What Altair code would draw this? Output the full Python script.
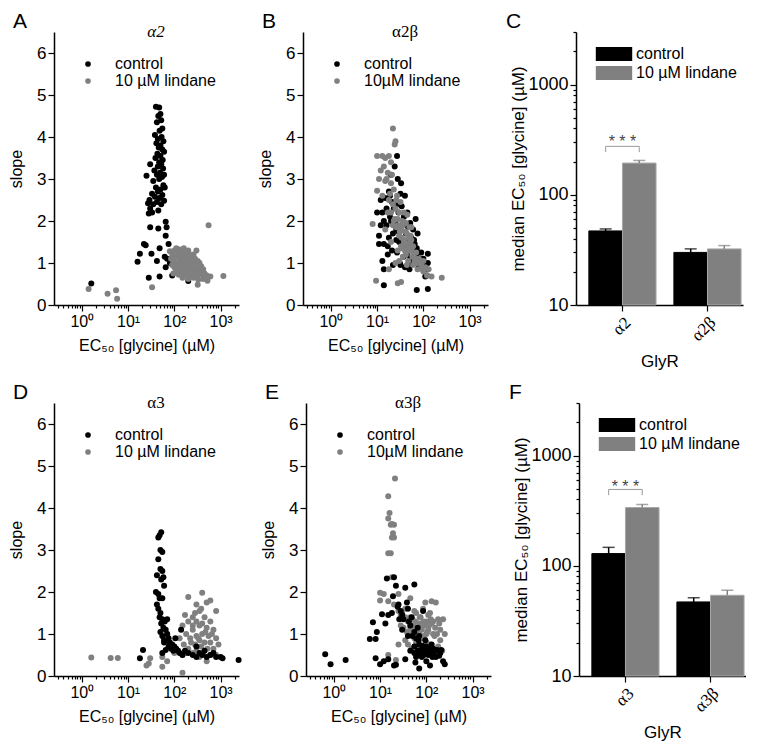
import altair as alt
import pandas as pd

SANS = "Liberation Sans"
SERIF = "Liberation Serif"
BLACK = "#000000"
GRAY = "#808080"
BAR_EDGE = "#a8a8a8"

# ---------------- scatter data: (EC50 [µM], slope) ----------------
a2_control = [
    (1.6, 0.51),
    (40, 4.72), (47, 4.70), (50, 4.55), (45, 4.50), (52, 4.40), (42, 4.35), (55, 4.20), (48, 4.15), (38, 4.05), (53, 4.00),
    (44, 3.95), (58, 3.90), (41, 3.85), (50, 3.80), (46, 3.75), (55, 3.70), (60, 3.65), (43, 3.60), (50, 3.55), (39, 3.50),
    (56, 3.45), (47, 3.40), (52, 3.35), (30, 3.35), (44, 3.30), (57, 3.25), (37, 3.20), (49, 3.15), (60, 3.10), (42, 3.10),
    (54, 3.05), (25, 3.08), (47, 3.00), (35, 2.95), (58, 2.85), (40, 2.80), (62, 2.80), (50, 2.75), (44, 2.70), (33, 2.65),
    (55, 2.62), (38, 2.58), (48, 2.55), (29, 2.50), (60, 2.48), (42, 2.45), (35, 2.40), (52, 2.40), (27, 2.42), (30, 2.30),
    (45, 2.25), (33, 2.20), (28, 2.18),
    (65, 1.98), (68, 1.85), (30, 1.85), (45, 1.82), (65, 1.65), (22, 1.45), (24, 1.42), (48, 1.35), (32, 1.22), (18, 1.22),
    (75, 1.45), (62, 1.15), (16, 1.03), (42, 1.05), (70, 1.10), (90, 1.10), (65, 0.90), (90, 0.70), (28, 0.65), (48, 0.68),
    (200, 0.57), (80, 1.00), (120, 0.75),
]
a2_lindane = [
    (1.4, 0.38), (3.6, 0.27), (5.5, 0.35), (5.8, 0.15), (33, 0.42), (550, 1.90), (1150, 0.69), (320, 0.48),
    (80, 1.28), (90, 1.20), (100, 1.30), (110, 1.35), (120, 1.25), (130, 1.32), (145, 1.28), (160, 1.35), (180, 1.22), (200, 1.30),
    (300, 1.30), (260, 1.20), (85, 1.10), (95, 1.05), (105, 1.15), (115, 1.00), (125, 1.12), (135, 1.05), (150, 1.15), (165, 1.08),
    (175, 1.00), (190, 1.12), (210, 1.05), (230, 1.15), (250, 1.08), (280, 1.10), (320, 1.05), (350, 1.00), (90, 0.95), (100, 0.90),
    (110, 0.85), (120, 0.95), (130, 0.88), (140, 0.98), (155, 0.92), (170, 0.85), (185, 0.95), (200, 0.90), (220, 0.98), (240, 0.88),
    (260, 0.95), (290, 0.90), (330, 0.85), (380, 0.92), (420, 0.85), (95, 0.75), (110, 0.80), (125, 0.72), (140, 0.78), (160, 0.75),
    (180, 0.70), (200, 0.78), (225, 0.72), (250, 0.80), (280, 0.75), (310, 0.70), (350, 0.78), (400, 0.72), (450, 0.75), (500, 0.70),
    (600, 0.68), (150, 0.65), (200, 0.62), (260, 0.65), (330, 0.60), (420, 0.62), (520, 0.58), (140, 1.20), (175, 1.18), (215, 1.20),
    (190, 0.82), (230, 0.85), (165, 0.98), (270, 1.02), (300, 0.82),
]
a2b_control = [
    (10, 2.20), (11, 1.65), (11, 1.45), (12, 2.50), (13, 2.20), (13, 1.05), (14, 0.85), (14, 1.45), (15, 2.55), (14, 0.47),
    (16, 1.90), (17, 1.20), (18, 2.70), (18, 1.60), (20, 3.10), (20, 2.00), (21, 1.30), (22, 0.95), (24, 3.30), (25, 2.40),
    (26, 1.80), (27, 3.55), (28, 3.00), (29, 2.20), (30, 1.50), (31, 1.00), (32, 2.65), (33, 2.90), (35, 1.90), (36, 1.35),
    (38, 2.10), (40, 0.90), (42, 1.70), (44, 1.20), (45, 2.20), (48, 1.50), (50, 0.85), (52, 1.95), (55, 1.30), (58, 1.00),
    (60, 1.80), (65, 1.45), (68, 2.05), (70, 1.15), (75, 1.70), (80, 0.90), (72, 0.36), (90, 1.25), (95, 1.00), (100, 1.10),
    (110, 0.85), (125, 1.22), (125, 1.00), (125, 0.38), (120, 0.70), (110, 0.68), (32, 0.95), (23, 2.30), (19, 2.60), (26, 1.55),
    (40, 2.60), (35, 1.50), (55, 1.60), (65, 1.20), (30, 2.40),
    (16, 2.30), (19, 2.10), (22, 1.70), (25, 2.00), (27, 1.25), (29, 1.75), (33, 1.60), (37, 1.15), (43, 1.45), (47, 1.85),
    (52, 1.10), (57, 1.40), (62, 1.05), (72, 1.35), (85, 1.10), (12, 1.90), (14, 2.00), (17, 1.40), (21, 2.45), (34, 2.35),
    (39, 1.95), (46, 0.95), (63, 1.55), (78, 1.25), (105, 0.95),
]
a2b_lindane = [
    (22, 4.20), (25, 3.90), (24, 3.82), (10, 3.55), (13, 3.55), (15, 3.50), (18, 3.55), (20, 3.40), (14, 3.30), (17, 3.15),
    (11, 3.00), (15, 2.95), (20, 2.90), (23, 2.75), (10, 2.72), (13, 2.60), (18, 2.50), (22, 2.40), (25, 2.30), (30, 2.20),
    (38, 2.20), (45, 2.15), (28, 2.05), (35, 2.00), (42, 1.95), (8, 1.93), (50, 1.85), (33, 1.80), (40, 1.75), (30, 1.65),
    (48, 1.60), (55, 1.55), (38, 1.50), (45, 1.45), (60, 1.40), (35, 1.35), (50, 1.30), (70, 1.25), (42, 1.20), (58, 1.15),
    (80, 1.10), (65, 1.05), (100, 1.05), (90, 0.95), (110, 0.90), (75, 0.85), (100, 0.80), (120, 0.70), (150, 0.68), (250, 0.65),
    (9.5, 0.58), (28, 0.52), (33, 0.55), (18, 0.85), (25, 1.00), (60, 0.95), (28, 1.30), (20, 1.50), (15, 1.80), (22, 1.90),
    (33, 1.40), (40, 1.30), (47, 1.05), (55, 1.85), (27, 2.60), (24, 2.05),
    (20, 2.20), (23, 2.00), (26, 1.85), (29, 1.90), (31, 1.75), (34, 1.60), (36, 1.90), (39, 1.55), (41, 1.45), (44, 1.70),
    (47, 1.40), (52, 1.50), (56, 1.30), (62, 1.20), (67, 1.10), (73, 1.00), (85, 1.05), (95, 0.85), (130, 0.85), (17, 2.20),
    (19, 2.65), (16, 3.00), (12, 3.20), (21, 3.10), (26, 2.50), (32, 2.45), (36, 1.15), (44, 0.95), (30, 1.05), (53, 1.65),
]
a3_control = [
    (18, 0.42), (21, 0.62), (45, 3.30), (48, 3.35), (52, 3.42), (50, 3.00), (55, 2.95), (45, 2.78), (50, 2.55), (55, 2.50),
    (58, 2.35), (42, 2.40), (52, 2.30), (60, 2.15), (40, 2.00), (45, 1.95), (48, 1.85), (55, 1.85), (42, 1.70), (45, 1.60),
    (50, 1.50), (48, 1.40), (55, 1.35), (62, 1.30), (70, 1.35), (52, 1.25), (58, 1.15), (65, 1.10), (50, 1.05), (55, 0.95),
    (60, 0.85), (70, 1.00), (75, 0.90), (80, 0.80), (90, 0.75), (100, 0.70), (110, 0.65), (85, 0.65), (95, 0.60), (120, 0.60),
    (130, 0.55), (150, 0.50), (200, 0.55), (250, 0.50), (300, 0.45), (350, 0.55), (400, 0.50), (500, 0.45), (600, 0.50), (700, 0.55),
    (800, 0.45), (1000, 0.45), (1100, 0.42), (2450, 0.38), (65, 0.62), (75, 0.70), (140, 1.10), (60, 0.80), (105, 0.90), (170, 0.60),
    (450, 0.60), (300, 0.70), (55, 0.55),
]
a3_lindane = [
    (1.6, 0.44), (4.2, 0.43), (6, 0.43), (25, 0.25), (28, 0.30), (30, 0.42), (55, 0.22), (70, 0.35), (150, 0.08), (55, 0.45),
    (60, 0.90), (70, 1.00), (200, 1.88), (400, 1.98), (500, 1.75), (600, 1.80), (800, 1.55), (300, 1.70), (350, 1.55), (170, 1.45),
    (250, 1.40), (450, 1.40), (200, 1.30), (300, 1.30), (600, 1.30), (150, 1.20), (350, 1.20), (500, 1.15), (700, 1.10), (250, 1.10),
    (180, 1.00), (400, 1.00), (550, 0.95), (300, 0.95), (130, 0.90), (220, 0.90), (800, 0.90), (350, 0.85), (450, 0.80), (600, 0.80),
    (900, 0.75), (160, 0.75), (280, 0.75), (380, 0.70), (520, 0.65), (700, 0.65), (200, 0.65), (120, 0.60), (300, 0.60), (420, 0.55),
    (250, 0.55), (180, 0.55), (600, 0.50), (500, 0.35), (350, 0.45), (150, 0.50), (100, 0.55), (800, 0.50), (250, 1.20), (400, 1.25),
    (330, 0.90), (470, 1.05), (230, 0.80), (650, 1.00), (280, 1.50), (380, 1.60),
]
a3b_control = [
    (0.65, 0.52), (0.85, 0.28), (1.8, 0.38), (6, 0.88), (7, 1.28), (8, 0.88), (8.5, 1.05), (8, 0.42), (10, 0.28), (11, 1.47),
    (12, 0.35), (13, 1.25), (14, 2.32), (15, 1.45), (15, 0.40), (18, 1.50), (19, 1.90), (20, 2.35), (22, 2.15), (22, 0.27),
    (20, 0.25), (25, 1.70), (28, 1.55), (30, 1.45), (35, 2.10), (38, 1.75), (40, 1.60), (42, 1.30), (35, 0.40), (45, 1.20),
    (48, 1.40), (50, 0.95), (55, 2.18), (55, 0.55), (60, 0.45), (65, 0.60), (70, 0.18), (70, 0.75), (75, 0.55), (80, 0.45),
    (85, 1.55), (90, 0.60), (100, 0.70), (110, 0.50), (120, 0.25), (130, 0.55), (140, 0.65), (150, 0.60), (160, 0.45), (200, 0.55),
    (230, 0.35), (250, 0.28), (60, 0.90), (70, 0.95), (95, 0.85), (55, 1.05), (65, 1.15), (32, 1.35), (24, 1.65), (180, 0.60),
    (130, 0.75),
    (55, 0.70), (62, 0.50), (68, 0.85), (78, 0.62), (82, 0.72), (88, 0.50), (95, 0.55), (105, 0.62), (115, 0.58), (125, 0.65),
    (135, 0.45), (145, 0.52), (170, 0.62), (190, 0.48), (210, 0.62), (58, 0.32), (100, 0.35), (45, 0.60), (40, 0.95), (30, 1.10),
    (26, 1.35),
]
a3b_lindane = [
    (15, 4.28), (21, 4.70), (16, 3.88), (15, 3.75), (17, 3.60), (18, 3.62), (20, 3.60), (19, 3.40), (18, 3.30), (20, 3.30),
    (15, 2.92), (17, 2.92), (18, 2.35), (10, 1.98), (12, 1.95), (10, 1.80), (25, 1.95), (15, 1.78), (20, 1.70), (25, 1.55),
    (30, 1.50), (35, 1.40), (40, 1.30), (28, 1.20), (45, 1.15), (50, 1.10), (60, 1.05), (70, 1.00), (80, 0.95), (55, 0.90),
    (65, 0.85), (90, 1.20), (100, 1.30), (110, 1.10), (120, 1.50), (130, 1.78), (160, 1.75), (180, 1.35), (230, 1.35), (200, 1.10),
    (220, 0.60), (150, 0.95), (140, 1.00), (100, 0.80), (90, 0.90), (40, 0.75), (35, 0.85), (25, 0.75), (15, 0.50), (22, 0.38),
    (42, 1.00), (48, 0.65), (60, 1.50), (75, 1.40), (85, 1.60), (95, 1.75), (110, 1.45), (130, 1.25), (170, 1.00), (200, 0.85),
    (120, 0.75), (70, 1.25), (60, 0.80), (80, 1.10), (50, 1.35),
    (32, 1.15), (38, 1.05), (45, 1.40), (52, 1.20), (58, 1.30), (65, 1.15), (72, 1.40), (78, 1.20), (88, 1.30), (105, 1.05),
    (115, 1.20), (125, 1.35), (140, 1.30), (155, 1.15), (190, 1.25), (250, 1.00), (180, 0.70), (140, 0.65), (100, 1.00), (70, 0.65),
    (55, 1.55), (45, 1.85), (35, 1.60), (28, 1.45),
]

# ---------------- bar data: median EC50 [µM] and upper error ----------------
groups_c = ["α2", "α2β"]
control_c = [47, 30]
control_c_err = [49, 32.3]
lindane_c = [194, 32.3]
lindane_c_err = [205, 34.6]

groups_f = ["α3", "α3β"]
control_f = [129, 47]
control_f_err = [147, 51.3]
lindane_f = [338, 54]
lindane_f_err = [360, 60]

# significance bracket: (bracket level, tick end level, star level)
sig_c = (275, 244, 300)
sig_f = (493, 437, 520)

# ---------------- axes helpers ----------------
x_tick_values = [0.3, 0.4, 0.5, 0.6, 0.7, 0.8, 0.9,
                 1, 2, 3, 4, 5, 6, 7, 8, 9,
                 10, 20, 30, 40, 50, 60, 70, 80, 90,
                 100, 200, 300, 400, 500, 600, 700, 800, 900,
                 1000, 2000]
x_label_expr = ("datum.value == 1 ? '10\u2070' : datum.value == 10 ? '10\u00b9' : "
                "datum.value == 100 ? '10\u00b2' : datum.value == 1000 ? '10\u00b3' : ''")
major_x = "datum.value == 1 || datum.value == 10 || datum.value == 100 || datum.value == 1000"

y_bar_values = [10, 20, 30, 40, 50, 60, 70, 80, 90,
                100, 200, 300, 400, 500, 600, 700, 800, 900,
                1000, 2000, 3000]
y_bar_expr = ("datum.value == 10 ? '10' : datum.value == 100 ? '100' : "
              "datum.value == 1000 ? '1000' : ''")
major_y = "datum.value == 10 || datum.value == 100 || datum.value == 1000"

PW, PH = 185, 273
BW = 167
LETTER_Y = -21


def scatter(ctrl, lind, title, letter, lind_label, italic=False, control_on_top=False):
    labels = ["control", lind_label]
    recs = []
    for e, s in ctrl:
        recs.append({"ec50": e, "slope": s, "cond": "control", "z": 1 if control_on_top else 0})
    for e, s in lind:
        recs.append({"ec50": e, "slope": s, "cond": lind_label, "z": 0 if control_on_top else 1})
    df = pd.DataFrame(recs)
    pts = alt.Chart(df).mark_circle(size=36, opacity=1).encode(
        x=alt.X("ec50:Q",
                scale=alt.Scale(type="log", domain=[0.25, 2500], nice=False),
                axis=alt.Axis(values=x_tick_values, labelExpr=x_label_expr,
                              tickSize={"condition": {"test": major_x, "value": 6}, "value": 3},
                              labelOverlap=False, labelFlush=False, labelFontSize=16,
                              labelPadding=2, title="EC\u2085\u2080 [glycine] (µM)",
                              titleFontSize=16, titlePadding=8)),
        y=alt.Y("slope:Q",
                scale=alt.Scale(domain=[0, 6.5], nice=False),
                axis=alt.Axis(values=[0, 1, 2, 3, 4, 5, 6], labelFontSize=17, tickSize=6,
                              labelPadding=2, title="slope", titleFontSize=16, titlePadding=12)),
        color=alt.Color("cond:N", scale=alt.Scale(domain=labels, range=[BLACK, GRAY]),
                        legend=alt.Legend(orient="none", legendX=26, legendY=24, title=None,
                                          symbolType="circle", symbolSize=32, labelFontSize=16,
                                          labelOffset=19, rowPadding=1, padding=0,
                                          symbolStrokeWidth=0)),
        order=alt.Order("z:Q"),
    )
    ttl = alt.Chart(pd.DataFrame({"t": [title]})).mark_text(
        font=SERIF, fontSize=17, fontStyle="italic" if italic else "normal",
        align="center", baseline="middle", color=BLACK
    ).encode(text="t:N", x=alt.value(102), y=alt.value(0))
    let = alt.Chart(pd.DataFrame({"t": [letter]})).mark_text(
        font=SANS, fontSize=21, align="left", baseline="top", color=BLACK
    ).encode(text="t:N", x=alt.value(-41), y=alt.value(LETTER_Y))
    return alt.layer(pts, ttl, let).properties(width=PW, height=PH)


def bars(groups, ctrl, ctrl_err, lind, lind_err, sig, letter):
    treats = ["control", "10 µM lindane"]
    df = pd.DataFrame({
        "group": groups * 2,
        "treat": [treats[0]] * len(groups) + [treats[1]] * len(groups),
        "value": ctrl + lind,
        "err": ctrl_err + lind_err,
    })
    x = alt.X("group:N", sort=groups,
              scale=alt.Scale(paddingInner=0.21, paddingOuter=0.087, align=0.87),
              axis=alt.Axis(labelAngle=315, labelFont=SERIF, labelFontSize=17, tickSize=6,
                            labelPadding=3, title="GlyR", titleFontSize=17, titlePadding=10))
    xo = alt.XOffset("treat:N", sort=treats, scale=alt.Scale(paddingInner=0, paddingOuter=0))
    yscale = alt.Scale(type="log", domain=[10, 3000], nice=False)
    y = alt.Y("value:Q", scale=yscale,
              axis=alt.Axis(values=y_bar_values, labelExpr=y_bar_expr, labelOverlap=False,
                            tickSize={"condition": {"test": major_y, "value": 6}, "value": 3},
                            labelFontSize=18, labelPadding=2,
                            title="median EC\u2085\u2080 [glycine] (µM)", titleFontSize=17,
                            titlePadding=0))
    is_ctrl = "datum.treat == 'control'"
    bar = alt.Chart(df).mark_bar(strokeWidth=1).encode(
        x=x, xOffset=xo, y=y, y2=alt.Y2(datum=10),
        color=alt.Color("treat:N", scale=alt.Scale(domain=treats, range=[BLACK, GRAY]),
                        legend=alt.Legend(orient="none", legendX=30, legendY=14, title=None,
                                          symbolType="M-2.6,-1H2.6V1H-2.6Z", symbolSize=196,
                                          labelFontSize=16, labelOffset=14, rowPadding=3,
                                          padding=0, symbolStrokeWidth=0)),
        stroke=alt.condition(is_ctrl, alt.value(BLACK), alt.value(BAR_EDGE)),
    )
    err = alt.Chart(df).mark_rule(strokeWidth=1.5).encode(
        x=x, xOffset=xo, y=alt.Y("value:Q"), y2="err:Q",
        color=alt.condition(is_ctrl, alt.value(BLACK), alt.value(GRAY)),
    )
    cap = alt.Chart(df).mark_tick(thickness=1.5, size=12).encode(
        x=x, xOffset=xo, y=alt.Y("err:Q"),
        color=alt.condition(is_ctrl, alt.value(BLACK), alt.value(GRAY)),
    )
    lvl, tick_end, star = sig
    br = pd.DataFrame({
        "group": [groups[0]] * 4,
        "treat": [treats[0], treats[0], treats[1], treats[1]],
        "lvl": [tick_end, lvl, lvl, tick_end],
        "k": [0, 1, 2, 3],
    })
    bracket = alt.Chart(br).mark_line(color="#999999", strokeWidth=1).encode(
        x=x, xOffset=xo, y=alt.Y("lvl:Q"), order="k:Q")
    stars = alt.Chart(pd.DataFrame({"group": [groups[0]], "lvl": [star], "t": ["* * *"]})).mark_text(
        font=SANS, fontSize=16, color="#444444", baseline="middle", align="center"
    ).encode(x=x, y=alt.Y("lvl:Q"), text="t:N")
    let = alt.Chart(pd.DataFrame({"t": [letter]})).mark_text(
        font=SANS, fontSize=21, align="left", baseline="top", color=BLACK
    ).encode(text="t:N", x=alt.value(-70), y=alt.value(LETTER_Y))
    return alt.layer(bar, err, cap, bracket, stars, let).properties(width=BW, height=PH)


A = scatter(a2_control, a2_lindane, "α2", "A", "10 µM lindane", italic=True)
B = scatter(a2b_control, a2b_lindane, "α2β", "B", "10µM lindane")
C = bars(groups_c, control_c, control_c_err, lindane_c, lindane_c_err, sig_c, "C")
D = scatter(a3_control, a3_lindane, "α3", "D", "10 µM lindane", control_on_top=True)
E = scatter(a3b_control, a3b_lindane, "α3β", "E", "10µM lindane", control_on_top=True)
F = bars(groups_f, control_f, control_f_err, lindane_f, lindane_f_err, sig_f, "F")

row1 = alt.hconcat(A, B, C, spacing=18).resolve_scale(color="independent", x="independent", y="independent")
row2 = alt.hconcat(D, E, F, spacing=18).resolve_scale(color="independent", x="independent", y="independent")

chart = alt.vconcat(row1, row2, spacing=12).resolve_scale(
    color="independent", x="independent", y="independent"
).properties(padding={"left": 0, "top": 3, "right": 0, "bottom": 0}).configure_view(stroke=None).configure_axis(
    grid=False, domainColor=BLACK, domainWidth=1.5, tickColor=BLACK, tickWidth=1.2,
    labelColor=BLACK, titleColor=BLACK, labelFont=SANS, titleFont=SANS, titleFontWeight="normal"
).configure_legend(labelFont=SANS, labelColor=BLACK).configure_text(font=SANS)

chart.save("out.html", embed_options={"renderer": "svg", "actions": False})
